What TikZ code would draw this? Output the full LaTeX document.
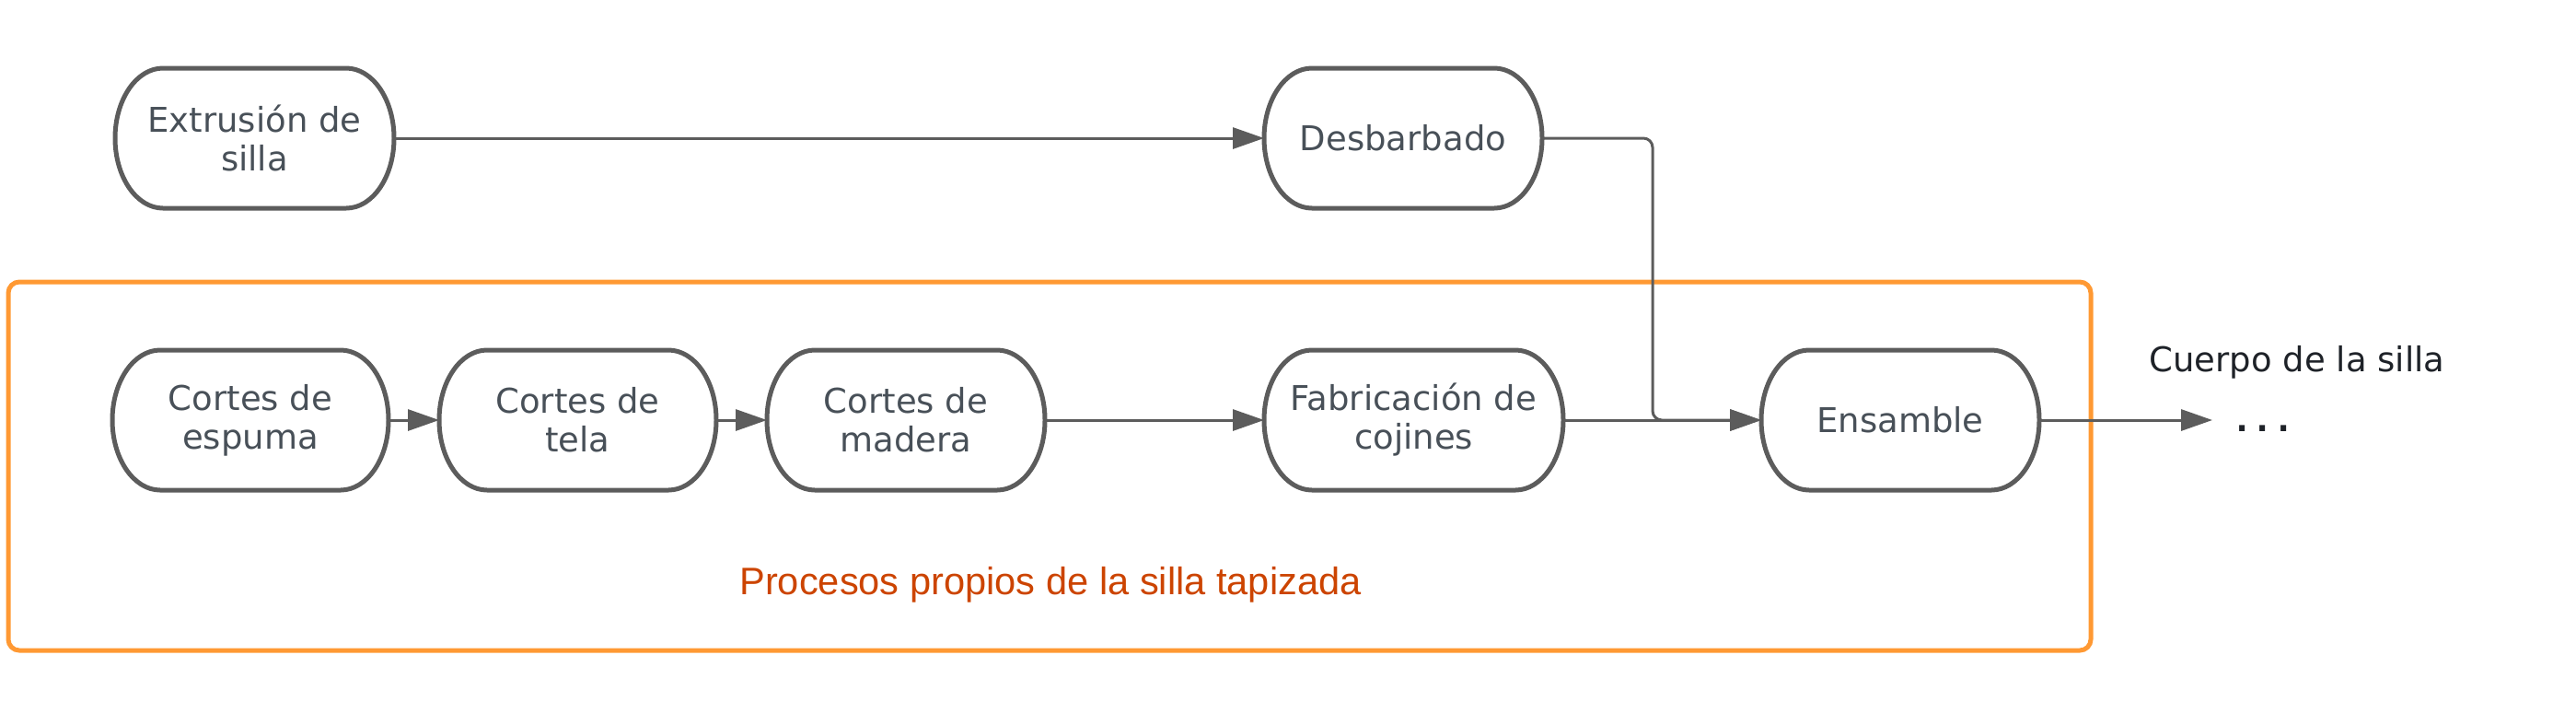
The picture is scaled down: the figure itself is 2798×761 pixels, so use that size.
\documentclass[tikz,border=0pt]{standalone}
\usepackage{fontspec}
\setmainfont{DejaVu Sans}
\newfontfamily\arialf{Liberation Sans}
\newfontfamily\monof{DejaVu Sans Mono}
\usetikzlibrary{arrows.meta}
\definecolor{strokec}{RGB}{92,92,92}
\definecolor{txtc}{RGB}{72,80,88}
\definecolor{orngc}{RGB}{255,153,51}
\definecolor{lblc}{RGB}{204,68,0}
\definecolor{darkc}{RGB}{30,34,40}
\tikzset{
  procnode/.style={draw=none, shape=rectangle, inner sep=0pt, outer sep=0pt,
    minimum height=76pt, align=center, text=txtc,
    font=\fontsize{18.5pt}{21pt}\selectfont},
  pillline/.style={draw=strokec, line width=2.5pt},
  conn/.style={draw=strokec, line width=1.5pt, -{Triangle[length=17pt,width=11.5pt]}},
  groupbox/.style={draw=orngc, line width=2.5pt, rounded corners=6pt},
}
\newcommand\pillaround[1]{%
  \draw[pillline] ([xshift=26pt]#1.north west) -- ([xshift=-26pt]#1.north east)
    arc[start angle=90,end angle=-90,x radius=26pt,y radius=38pt]
    -- ([xshift=26pt]#1.south west)
    arc[start angle=270,end angle=90,x radius=26pt,y radius=38pt] -- cycle;}
\begin{document}
\begin{tikzpicture}[x=0.5pt,y=-0.5pt]
\useasboundingbox (0,0) rectangle (2798,761);
% group box
\draw[groupbox] (9,306) rectangle (2271,706);
\node[anchor=base, text=lblc, font=\arialf\fontsize{20.8pt}{25pt}\selectfont] (grp) at (1141,645) {Procesos propios de la silla tapizada};
% nodes
\node[procnode, minimum width=151.5pt] (ext) at (276.5,150) {Extrusión de\\silla};
\node[procnode, minimum width=151pt] (desb) at (1524,150) {Desbarbado};
\node[procnode, minimum width=150pt] (esp) at (272,456) {Cortes de\\espuma};
\node[procnode, minimum width=150.5pt] (tela) at (627.5,456) {Cortes de\\tela};
\node[procnode, minimum width=151pt] (mad) at (984,456) {Cortes de\\madera};
\node[procnode, minimum width=162.5pt] (fab) at (1535.5,456) {Fabricación de\\cojines};
\node[procnode, minimum width=151pt] (ens) at (2064,456) {Ensamble};
\foreach \n in {ext,desb,esp,tela,mad,fab,ens} {\pillaround{\n}}
% outputs
\coordinate (endpt) at (2403,456);
\coordinate (bend) at (1795,300);
\node[anchor=base, text=darkc, font=\fontsize{18.5pt}{21pt}\selectfont] (cuerpo) at (2495,403) {Cuerpo de la silla};
\node[anchor=base, text=darkc, font=\monof\bfseries\fontsize{18.5pt}{21pt}\selectfont] (dots) at (2458,468) {...};
% connectors
\draw[conn] (ext.east) -- (desb.west);
\draw[conn] (esp.east) -- (tela.west);
\draw[conn] (tela.east) -- (mad.west);
\draw[conn] (mad.east) -- (fab.west);
\draw[conn] (fab.east) -- (ens.west);
\draw[conn, rounded corners=5pt] (desb.east) -| (bend) |- (ens.west);
\draw[conn] (ens.east) -- (endpt);
\end{tikzpicture}
\end{document}
